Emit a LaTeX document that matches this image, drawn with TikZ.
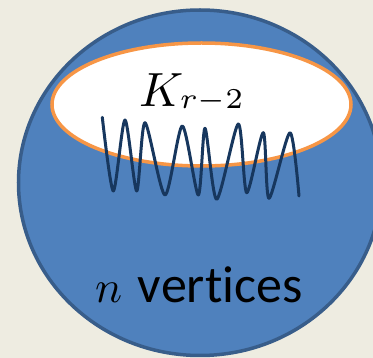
\documentclass[tikz,border=0pt]{standalone}
\usepackage{graphicx}
\usepackage{fontspec}
\newfontfamily\labelfont[Ligatures=NoCommon]{Carlito}
\usetikzlibrary{shapes.geometric}
\definecolor{slideTan}{HTML}{EEECE1}
\definecolor{setBlue}{HTML}{4F81BD}
\definecolor{setBlueDark}{HTML}{385D8A}
\definecolor{cliqueOrange}{HTML}{F79646}
\definecolor{waveNavy}{HTML}{17375E}
\DeclareMathSizes{10}{10}{6}{5}

\begin{document}
\begin{tikzpicture}[x=1pt, y=-1pt,
    bigSet/.style={draw=setBlueDark, line width=3.5pt, ellipse, fill=setBlue, minimum width=363pt, minimum height=345.5pt, inner sep=0pt},
    cliqueSet/.style={draw=cliqueOrange, line width=3.5pt, ellipse, fill=white, minimum width=299pt, minimum height=123pt, inner sep=0pt},
    setLabel/.style={anchor=base west, inner sep=0pt, text=black},
    wave/.style={draw=waveNavy, line width=3pt, line cap=round, line join=round},
]
\fill[slideTan] (0,0) rectangle (373,358);
\useasboundingbox (0,0) rectangle (373,358);
\node[bigSet]    (graph)  at (200, 182.75) {};
\node[cliqueSet] (clique) at (201.5, 104.5) {};
\node[setLabel] (cliqueName) at (139, 106.7)
    {\scalebox{4.8}{$K_{\raisebox{1.1pt}{$\scriptstyle r-2$}}$}};
\draw[wave] plot[smooth, tension=0.45] coordinates {
    (102.3,117.3) (113.3,191) (125,120) (136.7,191) (145,122.7) (165,195)
    (182.3,126) (198.3,195) (205,128.3) (216.7,199.3) (238.3,124) (246.7,192.7)
    (263.3,132.7) (269,198.3) (290,132.7) (299,196)};
\node[setLabel, font=\labelfont\fontsize{52}{56}\selectfont] (graphName) at (95, 303)
    {\scalebox{4.5}{\normalsize$n$}\hspace{4pt} vertices};
\end{tikzpicture}
\end{document}
